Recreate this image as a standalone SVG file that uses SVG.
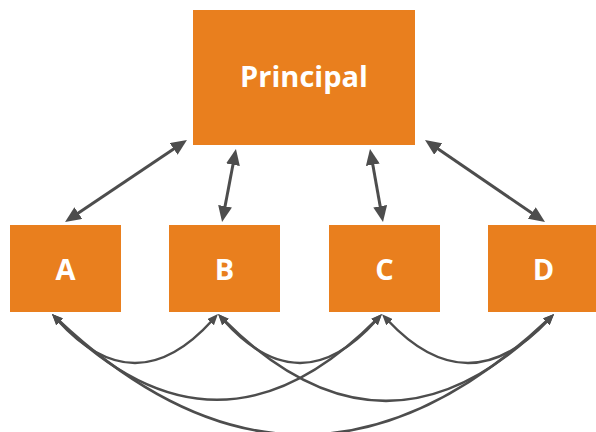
<svg xmlns="http://www.w3.org/2000/svg" width="596" height="432" viewBox="0 0 596 432">
  <style>
    .box { fill: #E97F1E; }
    .label { fill: #ffffff; font-family: "Open Sans", "Noto Sans", "Liberation Sans", sans-serif; font-weight: 700; font-size: 29px; text-anchor: middle; }
    .link { fill: none; stroke: #4d4d4d; stroke-width: 3; marker-start: url(#head); marker-end: url(#head); }
    .curve { fill: none; stroke: #4d4d4d; stroke-width: 2.5; marker-start: url(#headSmall); marker-end: url(#headSmall); }
  </style>
  <defs>
    <marker id="head" markerUnits="userSpaceOnUse" markerWidth="16" markerHeight="14" refX="4" refY="7" orient="auto-start-reverse" viewBox="0 0 16 14">
      <path d="M0,0 L16,7 L0,14 z" fill="#4d4d4d"/>
    </marker>
    <marker id="headSmall" markerUnits="userSpaceOnUse" markerWidth="11" markerHeight="9" refX="3" refY="4.5" orient="auto-start-reverse" viewBox="0 0 11 9">
      <path d="M0,0 L11,4.5 L0,9 z" fill="#4d4d4d"/>
    </marker>
  </defs>

  <g id="principal">
    <rect class="box" x="193" y="10" width="222" height="135"/>
    <text class="label" x="304" y="87">Principal</text>
  </g>
  <g id="node-a">
    <rect class="box" x="10" y="225" width="111" height="87"/>
    <text class="label" x="65.5" y="280">A</text>
  </g>
  <g id="node-b">
    <rect class="box" x="169" y="225" width="111" height="87"/>
    <text class="label" x="224.5" y="280">B</text>
  </g>
  <g id="node-c">
    <rect class="box" x="329" y="225" width="111" height="87"/>
    <text class="label" x="384.5" y="280">C</text>
  </g>
  <g id="node-d">
    <rect class="box" x="488" y="225" width="111" height="87"/>
    <text class="label" x="543.5" y="280">D</text>
  </g>

  <g id="connectors">
    <!-- Principal to each member -->
    <line class="link" x1="177" y1="146.7" x2="75" y2="215.3"/>
    <line class="link" x1="233.7" y1="160.8" x2="224.3" y2="210.2"/>
    <line class="link" x1="372.1" y1="160.8" x2="380.9" y2="210.2"/>
    <line class="link" x1="434.9" y1="146.8" x2="535.1" y2="215.2"/>
    <!-- member to member arcs -->
    <path class="curve" d="M57.4,320 Q135,406 212.6,320"/>
    <path class="curve" d="M223.4,320 Q300,406 376.6,320"/>
    <path class="curve" d="M387.5,320 Q468,406 548.5,320"/>
    <path class="curve" d="M57.6,319.7 Q217,480 376.4,319.7"/>
    <path class="curve" d="M223.7,319.7 Q386,482 548.3,319.7"/>
    <path class="curve" d="M57.8,319.5 Q303,550 548.2,319.5"/>
  </g>
</svg>
